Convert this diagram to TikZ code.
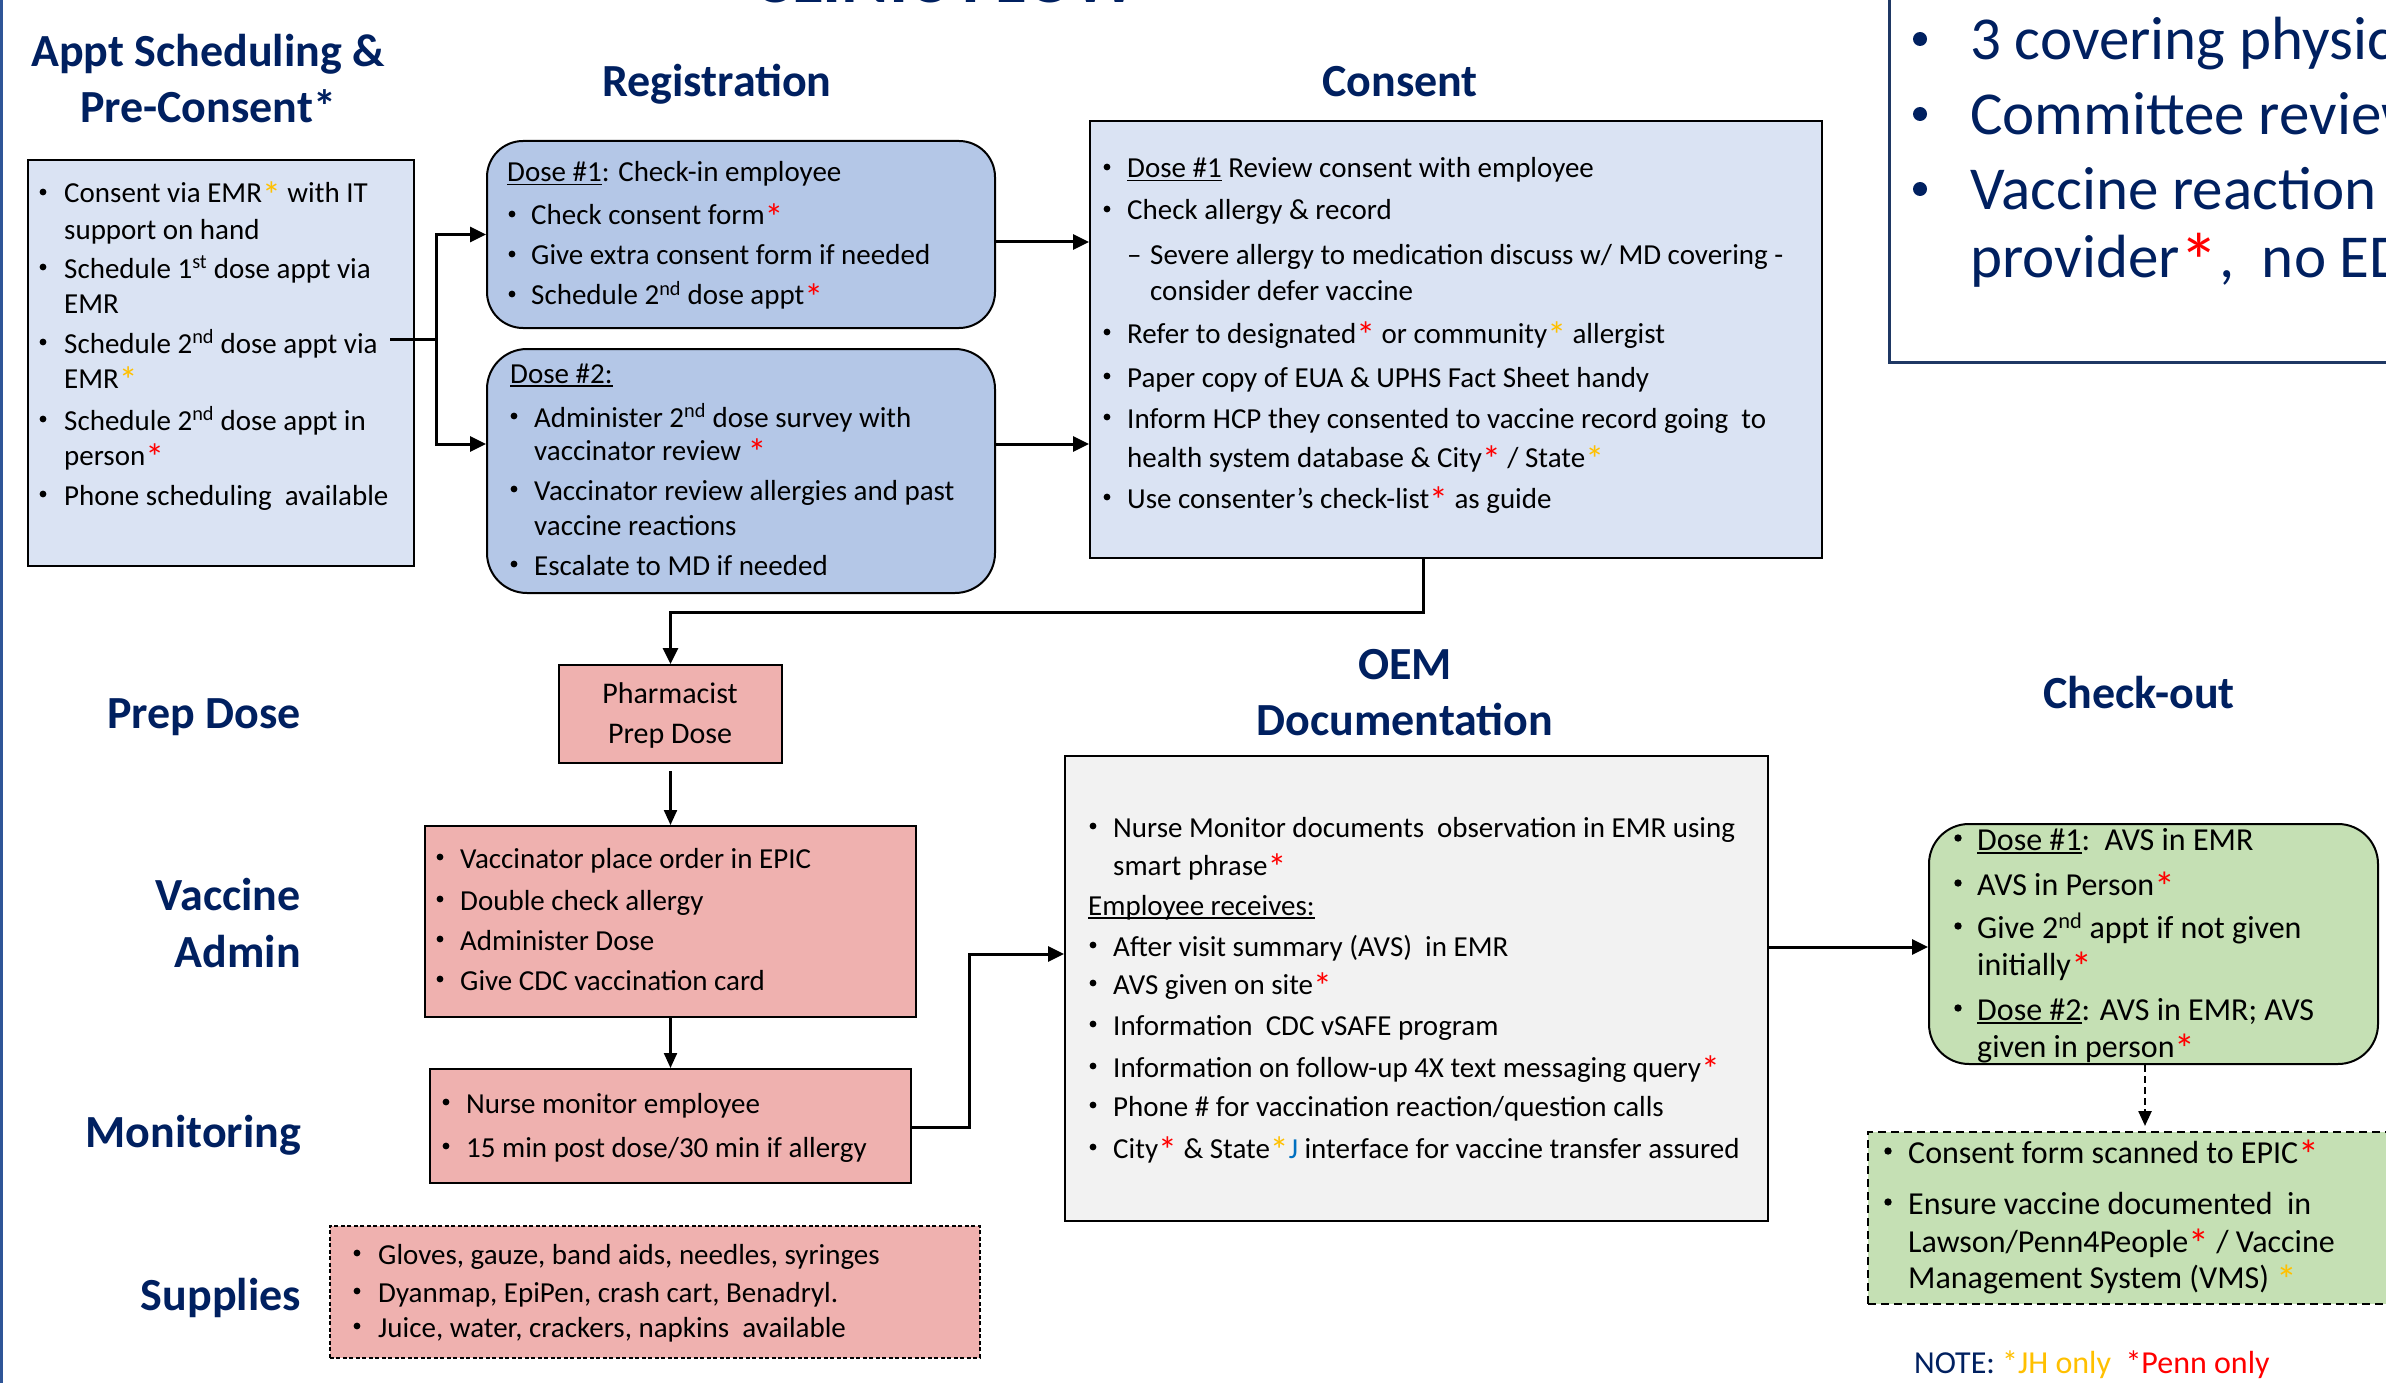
\documentclass[tikz,border=0pt]{standalone}
\usepackage{fontspec}
\setmainfont{Carlito}
\usetikzlibrary{arrows.meta,calc}
\definecolor{navy}{HTML}{002060}
\definecolor{lblue}{HTML}{DAE3F3}
\definecolor{mblue}{HTML}{B4C7E7}
\definecolor{pinkf}{HTML}{EFB1AF}
\definecolor{greenf}{HTML}{C5E0B4}
\definecolor{grayf}{HTML}{F2F2F2}
\definecolor{starred}{HTML}{FF0000}
\definecolor{stargold}{HTML}{FFC000}
\definecolor{jblue}{HTML}{0070C0}
\definecolor{edgeblue}{HTML}{2F5597}
\definecolor{boxnavy}{HTML}{1F3864}
\newcommand\bigstar{\raisebox{-0.2em}{\scalebox{1.3}{*}}}
\newcommand\rst{\textcolor{starred}{\bigstar}}
\newcommand\yst{\textcolor{stargold}{\bigstar}}
\newcommand\fsz[1]{\fontsize{#1}{#1}\selectfont}
\newcommand\uln[1]{\setbox0\hbox{#1}\rlap{\rule[-3.5pt]{\wd0}{1.6pt}}\box0\relax}
\newcommand\tline[4][]{\node[tx,#1] (#2) at (#3) {#4};}
\newcommand\tbul[2]{\node[dot, minimum size=6.8pt] (#1) at ($(#2)+(0,-11)$) {};}
\newcommand\tbulb[2]{\node[dot, minimum size=7.4pt] (#1) at ($(#2)+(0,-12)$) {};}
\newcommand\tbulg[2]{\node[dot, minimum size=14pt, fill=navy] (#1) at ($(#2)+(0,-21)$) {};}
\tikzset{
  box/.style={draw=black, line width=2pt, inner sep=0pt, anchor=north west},
  dot/.style={circle, fill=black, inner sep=0pt},
  tx/.style={anchor=base west, inner sep=0pt, font=\fsz{29}},
  tb/.style={tx, font=\fsz{32}},
  tbig/.style={tx, font=\fsz{61}, text=navy},
  hd/.style={anchor=base, inner sep=0pt, font=\fsz{46}\bfseries, text=navy},
  hdr/.style={anchor=base east, inner sep=0pt, font=\fsz{46}\bfseries, text=navy},
  conn/.style={line width=3pt, draw=black},
  arr/.style={conn, -{Triangle[length=16pt,width=15pt]}},
  arrthin/.style={line width=2.2pt, draw=black, -{Triangle[length=15pt,width=13pt]}},
}
\begin{document}
\begin{tikzpicture}[x=1pt,y=-1pt]
\useasboundingbox (0,0) rectangle (2386,1383);
\clip (0,0) rectangle (2386,1383);
\fill[white] (0,0) rectangle (2386,1383);
\draw[edgeblue, line width=2.5pt] (1.5,0) -- (1.5,1383);

% title (cropped)
\node[anchor=base, inner sep=0pt, font=\fsz{72}\bfseries, text=navy] (title) at (946,3) {CLINIC FLOW};

% headings
\node[hd] (h1a) at (208,67) {Appt Scheduling \&};
\node[hd] (h1b) at (208,123) {Pre-Consent*};
\node[hd] (h2) at (717,97) {Registration};
\node[hd] (h3) at (1400,97) {Consent};
\node[hdr] (h4) at (301,728) {Prep Dose};
\node[hdr] (h5a) at (301,910) {Vaccine};
\node[hdr] (h5b) at (301,967) {Admin};
\node[hdr] (h6) at (301,1147) {Monitoring};
\node[hdr] (h7) at (301,1310) {Supplies};
\node[hd] (h8a) at (1405,679) {OEM};
\node[hd] (h8b) at (1405,735) {Documentation};
\node[hd] (h9) at (2139,708) {Check-out};

% boxes
\node[box, fill=white, draw=boxnavy, line width=2.5pt, minimum width=560pt, minimum height=381pt] (topbox) at (1888,-20) {};
\node[box, fill=lblue, minimum width=386pt, minimum height=406pt] (appt) at (27,159) {};
\node[box, fill=mblue, rounded corners=36pt, minimum width=508pt, minimum height=187pt] (reg1) at (486,140) {};
\node[box, fill=mblue, rounded corners=40pt, minimum width=508pt, minimum height=244pt] (reg2) at (486,348) {};
\node[box, fill=lblue, minimum width=732pt, minimum height=437pt] (consent) at (1089,120) {};
\node[box, fill=pinkf, minimum width=223pt, minimum height=98pt] (pharm) at (558,664) {};
\node[box, fill=pinkf, minimum width=491pt, minimum height=191pt] (vacc) at (424,825) {};
\node[box, fill=pinkf, minimum width=481pt, minimum height=114pt] (monit) at (429,1068) {};
\node[box, fill=pinkf, line width=1.6pt, dash pattern=on 4pt off 2.5pt, minimum width=650pt, minimum height=132pt] (supp) at (329,1225) {};
\node[box, fill=grayf, minimum width=703pt, minimum height=465pt] (oem) at (1064,755) {};
\node[box, fill=greenf, rounded corners=40pt, minimum width=449pt, minimum height=240pt] (chk) at (1928,823) {};
\node[box, fill=greenf, dash pattern=on 8pt off 5pt, minimum width=560pt, minimum height=172pt] (epic) at (1867,1131) {};

% connectors
\coordinate (a1) at (390,339);
\coordinate (sp) at (436,339);
\coordinate (r2in) at (436,444);
\coordinate (y242) at (0,242);
\coordinate (cx) at (1423,612);
\coordinate (mo1) at (969,1127);
\coordinate (mo2) at (969,954);
\coordinate (oc) at (0,947);
\coordinate (ce) at (2145,0);
\draw[conn] (a1) -- (sp);
\draw[arr] (sp) |- (reg1.west);
\draw[arr] (sp) -- (r2in) -- (r2in -| reg2.west);
\draw[arr] (reg1.east |- y242) -- (consent.west |- y242);
\draw[arr] (reg2.east |- r2in) -- (consent.west |- r2in);
\draw[arr] (consent.south -| cx) -- (cx) -| (pharm.north);
\draw[arrthin, shorten <=7pt] (pharm.south) -- (vacc.north);
\draw[arrthin] (vacc.south) -- (monit.north);
\draw[arr] (monit.east |- mo1) -- (mo1) -- (mo2) -- (mo2 -| oem.west);
\draw[arr] (oem.east |- oc) -- (chk.west |- oc);
\draw[arrthin, line width=2.5pt, dash pattern=on 7pt off 4pt, shorten >=5pt] (chk.south -| ce) -- (epic.north -| ce);

% top-right box text
\tbulg{tr1b}{1920,60} \tline[tbig]{tr1}{1970,60}{3 covering physicians}
\tbulg{tr2b}{1920,135} \tline[tbig]{tr2}{1970,135}{Committee review}
\tbulg{tr3b}{1920,210} \tline[tbig]{tr3}{1970,210}{Vaccine reaction}
\tline[tbig]{tr3c}{1970,277}{provider\rst,\ \ no ED}

% appt text
\tbul{ap1b}{43,203} \tline{ap1}{64,203}{Consent via EMR\yst{} with IT}
\tline{ap1c}{64,240}{support on hand}
\tbul{ap2b}{43,278} \tline{ap2}{64,278}{Schedule 1\textsuperscript{st} dose appt via}
\tline{ap2c}{64,313}{EMR}
\tbul{ap3b}{43,353} \tline{ap3}{64,353}{Schedule 2\textsuperscript{nd} dose appt via}
\tline{ap3c}{64,388}{EMR\yst}
\tbul{ap4b}{43,430} \tline{ap4}{64,430}{Schedule 2\textsuperscript{nd} dose appt in}
\tline{ap4c}{64,465}{person\rst}
\tbul{ap5b}{43,505} \tline{ap5}{64,505}{Phone scheduling\ \ available}

% registration text
\tline{r1h}{507,182}{\uln{Dose \#1}: Check-in employee}
\tbul{r1ab}{512,225} \tline{r1a}{531,225}{Check consent form\rst}
\tbul{r1bb}{512,265} \tline{r1b}{531,265}{Give extra consent form if needed}
\tbul{r1cb}{512,305} \tline{r1c}{531,305}{Schedule 2\textsuperscript{nd} dose appt\rst}
\tline{r2h}{510,383}{\uln{Dose \#2:}}
\tbul{r2ab}{514,427} \tline{r2a}{534,427}{Administer 2\textsuperscript{nd} dose survey with}
\tline{r2a2}{534,460}{vaccinator review \rst}
\tbul{r2bb}{514,500} \tline{r2b}{534,500}{Vaccinator review allergies and past}
\tline{r2b2}{534,535}{vaccine reactions}
\tbul{r2cb}{514,575} \tline{r2c}{534,575}{Escalate to MD if needed}

% consent text
\tbul{c1b}{1107,178} \tline{c1}{1127,178}{\uln{Dose \#1} Review consent with employee}
\tbul{c2b}{1107,220} \tline{c2}{1127,220}{Check allergy \& record}
\tline{c3d}{1127,265}{–} \tline{c3}{1150,265}{Severe allergy to medication discuss w/ MD covering -}
\tline{c3c}{1150,300}{consider defer vaccine}
\tbul{c4b}{1107,343} \tline{c4}{1127,343}{Refer to designated\rst{} or community\yst{} allergist}
\tbul{c5b}{1107,387} \tline{c5}{1127,387}{Paper copy of EUA \& UPHS Fact Sheet handy}
\tbul{c6b}{1107,428} \tline{c6}{1127,428}{Inform HCP they consented to vaccine record going\ \ to}
\tline{c6c}{1127,467}{health system database \& City\rst{} / State\yst}
\tbul{c7b}{1107,508} \tline{c7}{1127,508}{Use consenter’s check-list\rst{} as guide}

% pharmacist
\node[anchor=base, inner sep=0pt, font=\fsz{30}] (ph1) at (670,703) {Pharmacist};
\node[anchor=base, inner sep=0pt, font=\fsz{30}] (ph2) at (670,743) {Prep Dose};

% vaccine admin
\tbul{v1b}{440,868} \tline{v1}{460,868}{Vaccinator place order in EPIC}
\tbul{v2b}{440,910} \tline{v2}{460,910}{Double check allergy}
\tbul{v3b}{440,950} \tline{v3}{460,950}{Administer Dose}
\tbul{v4b}{440,990} \tline{v4}{460,990}{Give CDC vaccination card}

% monitoring
\tbul{m1b}{446,1113} \tline{m1}{466,1113}{Nurse monitor employee}
\tbul{m2b}{446,1157} \tline{m2}{466,1157}{15 min post dose/30 min if allergy}

% supplies
\tbul{s1b}{357,1264} \tline{s1}{378,1264}{Gloves, gauze, band aids, needles, syringes}
\tbul{s2b}{357,1302} \tline{s2}{378,1302}{Dyanmap, EpiPen, crash cart, Benadryl.}
\tbul{s3b}{357,1337} \tline{s3}{378,1337}{Juice, water, crackers, napkins\ \ available}

% OEM
\tbul{o1b}{1093,837} \tline{o1}{1113,837}{Nurse Monitor documents\ \ observation in EMR using}
\tline{o1c}{1113,875}{smart phrase\rst}
\tline{o2}{1088,915}{\uln{Employee receives:}}
\tbul{o3b}{1093,956} \tline{o3}{1113,956}{After visit summary (AVS)\ \ in EMR}
\tbul{o4b}{1093,994} \tline{o4}{1113,994}{AVS given on site\rst}
\tbul{o5b}{1093,1035} \tline{o5}{1113,1035}{Information\ \ CDC vSAFE program}
\tbul{o6b}{1093,1077} \tline{o6}{1113,1077}{Information on follow-up 4X text messaging query\rst}
\tbul{o7b}{1093,1116} \tline{o7}{1113,1116}{Phone \# for vaccination reaction/question calls}
\tbul{o8b}{1093,1158} \tline{o8}{1113,1158}{City\rst{} \& State\yst\textcolor{jblue}{J} interface for vaccine transfer assured}

% check-out
\tbulb{k1b}{1958,850} \tline[tb]{k1}{1977,850}{\uln{Dose \#1}:\ \ AVS in EMR}
\tbulb{k2b}{1958,895} \tline[tb]{k2}{1977,895}{AVS in Person\rst}
\tbulb{k3b}{1958,938} \tline[tb]{k3}{1977,938}{Give 2\textsuperscript{nd} appt if not given}
\tline[tb]{k3c}{1977,975}{initially\rst}
\tbulb{k4b}{1958,1020} \tline[tb]{k4}{1977,1020}{\uln{Dose \#2}: AVS in EMR; AVS}
\tline[tb]{k4c}{1977,1057}{given in person\rst}

% epic
\tbulb{e1b}{1888,1163} \tline[tb]{e1}{1908,1163}{Consent form scanned to EPIC\rst}
\tbulb{e2b}{1888,1214} \tline[tb]{e2}{1908,1214}{Ensure vaccine documented\ \ in}
\tline[tb]{e2c}{1908,1252}{Lawson/Penn4People\rst{} / Vaccine}
\tline[tb]{e2d}{1908,1288}{Management System (VMS) \yst}

% note
\tline[tb]{note}{1914,1373}{\textcolor{navy}{NOTE:} \textcolor{stargold}{*JH only}\ \ \textcolor{starred}{*Penn only}}
\end{tikzpicture}
\end{document}
